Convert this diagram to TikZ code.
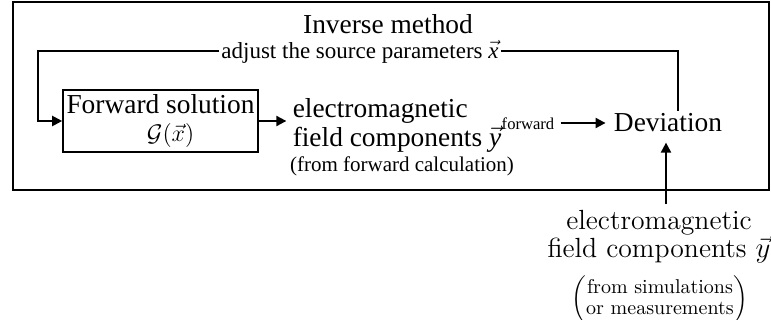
\documentclass[tikz,border=0pt]{standalone}
\usepackage{fontspec}
\setmainfont{Liberation Serif}
\usetikzlibrary{arrows.meta}
\tikzset{
  big/.style={inner sep=1pt, font=\fontsize{13.7}{14.5}\selectfont},
  mid/.style={inner sep=1pt, font=\fontsize{11.5}{13}\selectfont},
  small/.style={inner sep=1pt, font=\fontsize{10.5}{12}\selectfont},
  tiny/.style={inner sep=1pt, font=\fontsize{8.3}{10}\selectfont},
  lm/.style={inner sep=0pt, font=\fontfamily{lmr}\fontsize{13.85}{14}\selectfont},
  lmsmall/.style={inner sep=0pt, font=\fontfamily{lmr}\fontsize{10}{10.5}\selectfont},
  fbox/.style={draw, line width=0.8pt, minimum width=97.5pt, minimum height=31pt, inner sep=0pt, align=center, font=\fontsize{13.7}{13}\selectfont},
  frame/.style={draw, line width=0.8pt},
  conn/.style={line width=1pt, -{Triangle[length=5pt,width=5pt]}},
  plain/.style={line width=1pt},
}
\begin{document}
\begin{tikzpicture}[x=0.5pt,y=-0.5pt]
\useasboundingbox (0,0) rectangle (771,320);
\draw[frame] (13,2) rectangle (769,190);
\node[big] (inv) at (388,24) {Inverse method};
\node[mid] (adj) at (360,52) {adjust the source parameters $\vec{\mbox{\textit{x}}}$};
\node[fbox] (fwd) at (160.5,121) {Forward solution\\[1pt]\hspace*{10pt}{\fontsize{12.5}{13}\selectfont$\mathcal{G}(\vec{x})$}};
\node[big, align=left] (em) at (397,125.5) {electromagnetic\\field components $\vec{\mbox{\textit{y}}}$};
\node[tiny] (sup) at (528,124) {forward};
\node[small] (calc) at (402,166) {(from forward calculation)};
\node[big] (dev) at (668,123) {Deviation};
\node[lm, align=center] (bot) at (659,237) {electromagnetic\\field components $\vec{y}$};
\node[lmsmall] (par) at (660,300) {$\left(\mbox{\begin{tabular}{@{}c@{}}from simulations\\or measurements\end{tabular}}\right)$};
\coordinate (tl) at (38,51);
\coordinate (tr) at (678,51);
\draw[conn] (adj.west |- tl) -- (tl) |- (fwd.west);
\draw[plain] (adj.east |- tr) -- (tr) -- (tr |- dev.north);
\draw[conn] (fwd.east) -- ([xshift=-2pt]em.west |- fwd.east);
\draw[conn, shorten <=2pt, shorten >=3pt] (sup.east |- dev.west) -- (dev.west);
\draw[conn, shorten <=3pt] ([xshift=3.5pt]bot.north) -- ([xshift=3.5pt,yshift=-4pt]bot.north |- dev.south);
\end{tikzpicture}
\end{document}
